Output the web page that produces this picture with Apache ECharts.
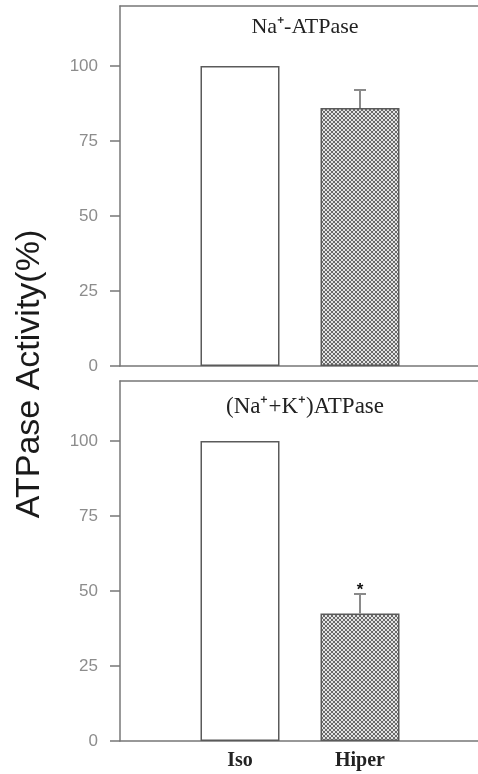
<!DOCTYPE html>
<html>
<head>
<meta charset="utf-8">
<script src="https://cdn.jsdelivr.net/npm/echarts@6/dist/echarts.min.js"></script>
<style>html,body{margin:0;padding:0;background:#fff}#c{width:478px;height:774px}</style>
</head>
<body>
<div id="c"></div>
<script>
const categories = ['', 'Iso', 'Hiper', ''];
const topTitle = 'Na\u207A-ATPase';
const bottomTitle = '(Na\u207A+K\u207A)ATPase';
const yAxisTitle = 'ATPase Activity(%)';
const yTicks = [0, 25, 50, 75, 100];
const topIso = [null, 100, null, null];
const topHiper = [null, null, 86, null];
const topErr = [null, null, 6, null];
const botIso = [null, 100, null, null];
const botHiper = [null, null, 42.5, null];
const botErr = [null, null, 6.5, null];
const botMark = [null, null, '*', null];

function makePattern() {
  const c = document.createElement('canvas');
  c.width = 4; c.height = 4;
  const ctx = c.getContext('2d');
  ctx.fillStyle = '#e4e4e4';
  ctx.fillRect(0, 0, 4, 4);
  ctx.fillStyle = '#6a6a6a';
  for (let i = 0; i < 4; i++) {
    ctx.fillRect(i, i, 1, 1);
    ctx.fillRect(i, 3 - i, 1, 1);
  }
  return c;
}
const pat = makePattern();

const chart = echarts.init(document.getElementById('c'), null, {renderer: 'canvas'});
const axisGray = '#777';

function yAxis(idx) {
  return {
    type: 'value', gridIndex: idx, min: 0, max: 120, interval: 25,
    axisLine: {show: true, lineStyle: {color: axisGray, width: 1.5}},
    axisTick: {show: true, length: 10, lineStyle: {color: axisGray, width: 1.5}, customValues: yTicks},
    axisLabel: {color: '#8c8c8c', fontFamily: 'Liberation Sans', fontSize: 17, margin: 22, customValues: yTicks},
    splitLine: {show: false}
  };
}
function xAxis(idx, showLabels) {
  return {
    type: 'category', gridIndex: idx, data: categories, boundaryGap: false,
    axisLine: {show: true, onZero: false, lineStyle: {color: axisGray, width: 1.5}},
    axisTick: {show: false},
    axisLabel: {show: showLabels, interval: 0, color: '#222', fontFamily: 'Liberation Serif', fontWeight: 'bold', fontSize: 20, margin: 10},
    splitLine: {show: false}
  };
}
function topFrame(idx) {
  return {
    type: 'category', gridIndex: idx, data: categories, boundaryGap: false, position: 'top',
    axisLine: {show: true, onZero: false, lineStyle: {color: axisGray, width: 1.5}},
    axisTick: {show: false}, axisLabel: {show: false}, splitLine: {show: false}
  };
}
function errSeries(idx, values, err, marks) {
  return {
    type: 'custom', xAxisIndex: idx * 2, yAxisIndex: idx,
    data: values.map((v, i) => [i, v, err[i]]).filter(d => d[1] != null),
    renderItem: function (params, api) {
      const x = api.value(0), v = api.value(1), e = api.value(2);
      const p0 = api.coord([x, v]);
      const p1 = api.coord([x, v + e]);
      const children = [
        {type: 'line', shape: {x1: p0[0], y1: p0[1], x2: p1[0], y2: p1[1]}, style: {stroke: '#8a8a8a', lineWidth: 2}},
        {type: 'line', shape: {x1: p1[0] - 6, y1: p1[1], x2: p1[0] + 6, y2: p1[1]}, style: {stroke: '#8a8a8a', lineWidth: 2}}
      ];
      const m = marks ? marks[x] : null;
      if (m) {
        children.push({type: 'text', style: {text: m, x: p1[0], y: p1[1] + 5, align: 'center', verticalAlign: 'bottom', fill: '#111', font: 'bold 17px "Liberation Sans"'}});
      }
      return {type: 'group', children: children};
    },
    z: 5
  };
}
function barSeries(idx, data, color) {
  return {
    type: 'bar', xAxisIndex: idx * 2, yAxisIndex: idx, data: data, barWidth: 79, barGap: '-100%',
    itemStyle: {color: color, borderColor: '#5a5a5a', borderWidth: 1.5},
    silent: true
  };
}

chart.setOption({
  animation: false,
  backgroundColor: '#fff',
  title: [
    {text: topTitle, left: 300, top: 11, textAlign: 'center', textStyle: {fontFamily: 'Liberation Serif', fontWeight: 'normal', fontSize: 22, color: '#222'}},
    {text: bottomTitle, left: 300, top: 390, textAlign: 'center', textStyle: {fontFamily: 'Liberation Serif', fontWeight: 'normal', fontSize: 23, color: '#222'}}
  ],
  grid: [
    {left: 120, top: 6, width: 360, height: 360, show: false, outerBoundsMode: 'none'},
    {left: 120, top: 381, width: 360, height: 360, show: false, outerBoundsMode: 'none'}
  ],
  xAxis: [xAxis(0, false), topFrame(0), xAxis(1, true), topFrame(1)],
  yAxis: [yAxis(0), yAxis(1)],
  series: [
    barSeries(0, topIso, '#fff'),
    barSeries(0, topHiper, {image: pat, repeat: 'repeat'}),
    errSeries(0, topHiper, topErr, null),
    barSeries(1, botIso, '#fff'),
    barSeries(1, botHiper, {image: pat, repeat: 'repeat'}),
    errSeries(1, botHiper, botErr, botMark)
  ],
  graphic: [{
    type: 'text', x: 30, y: 374, rotation: Math.PI / 2,
    style: {text: yAxisTitle, fill: '#1a1a1a', font: '34px "Liberation Sans"', align: 'center', verticalAlign: 'middle'}
  }]
});
</script>
</body>
</html>
